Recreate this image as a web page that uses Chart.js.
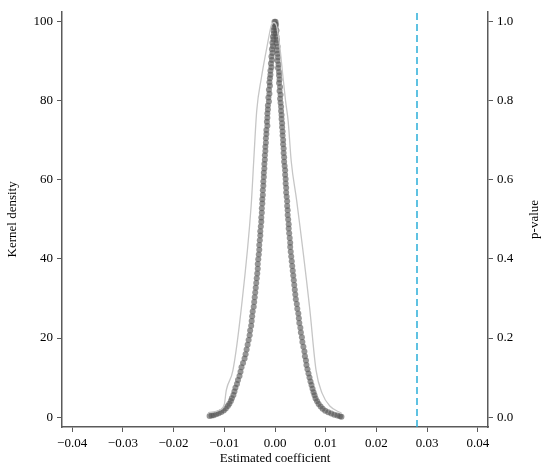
<!DOCTYPE html>
<html>
<head>
<meta charset="utf-8">
<script src="https://cdn.jsdelivr.net/npm/chart.js@4.4.1/dist/chart.umd.min.js"></script>
<style>
  body { margin: 0; background: #fff; }
  canvas { display: block; }
</style>
</head>
<body>
<canvas id="placeboChart" width="550" height="469"></canvas>
<script>
// kernel density of the placebo estimates
var densCoef = [-0.0132, -0.0109, -0.0100, -0.0096, -0.0083, -0.0066, -0.0047, -0.0042, -0.0036, -0.0027, -0.0015, -0.0007, -0.0002,
                0.0003, 0.0009, 0.0016, 0.0021, 0.0026, 0.0032, 0.0043, 0.0068, 0.0081, 0.0093, 0.0108, 0.0131];
var densValue = [1.1, 1.8, 3.2, 6.8, 11.8, 28, 53.5, 64.7, 77.5, 85.7, 94.2, 99.2, 99.8,
                 99, 94.2, 85.7, 79.8, 74.8, 64.7, 54.5, 28, 11.8, 6, 2.8, 1.0];

// p-values, left branch
var leftCoef = [-0.0001, 0.0000, -0.0002, -0.0003, -0.0002, -0.0004, -0.0003, -0.0005, -0.0004, -0.0006,
                -0.0005, -0.0007, -0.0006, -0.0008, -0.0007, -0.0009, -0.0009, -0.0010, -0.0011, -0.0010,
                -0.0012, -0.0011, -0.0013, -0.0012, -0.0014, -0.0014, -0.0015, -0.0015, -0.0016, -0.0015,
                -0.0017, -0.0017, -0.0018, -0.0018, -0.0019, -0.0019, -0.0020, -0.0020, -0.0021, -0.0021,
                -0.0022, -0.0022, -0.0023, -0.0023, -0.0024, -0.0024, -0.0025, -0.0025, -0.0026, -0.0026,
                -0.0027, -0.0027, -0.0028, -0.0029, -0.0029, -0.0030, -0.0031, -0.0031, -0.0032, -0.0033,
                -0.0034, -0.0034, -0.0035, -0.0036, -0.0037, -0.0038, -0.0039, -0.0040, -0.0041, -0.0042,
                -0.0044, -0.0045, -0.0046, -0.0047, -0.0049, -0.0050, -0.0052, -0.0054, -0.0056, -0.0058,
                -0.0060, -0.0063, -0.0066, -0.0068, -0.0070, -0.0073, -0.0075, -0.0078, -0.0080, -0.0082,
                -0.0085, -0.0087, -0.0090, -0.0093, -0.0097, -0.0101, -0.0106, -0.0111, -0.0116, -0.0121,
                -0.0125, -0.0129];
var leftP = [1.000, 0.992, 0.985, 0.978, 0.970, 0.962, 0.955, 0.947, 0.938, 0.930,
             0.921, 0.912, 0.903, 0.894, 0.885, 0.876, 0.866, 0.857, 0.847, 0.838,
             0.828, 0.818, 0.808, 0.798, 0.788, 0.778, 0.768, 0.757, 0.747, 0.737,
             0.726, 0.716, 0.705, 0.694, 0.684, 0.673, 0.662, 0.651, 0.640, 0.629,
             0.618, 0.607, 0.596, 0.585, 0.574, 0.562, 0.551, 0.540, 0.528, 0.517,
             0.505, 0.494, 0.482, 0.470, 0.459, 0.447, 0.435, 0.423, 0.411, 0.399,
             0.387, 0.375, 0.363, 0.351, 0.339, 0.327, 0.315, 0.303, 0.291, 0.279,
             0.267, 0.255, 0.243, 0.231, 0.219, 0.207, 0.195, 0.183, 0.171, 0.159,
             0.148, 0.137, 0.126, 0.115, 0.104, 0.094, 0.084, 0.074, 0.065, 0.056,
             0.048, 0.041, 0.034, 0.028, 0.022, 0.017, 0.013, 0.010, 0.007, 0.005,
             0.004, 0.003];

// p-values, right branch
var rightCoef = [0.0001, 0.0002, 0.0001, 0.0003, 0.0002, 0.0003, 0.0004, 0.0003, 0.0005, 0.0004,
                 0.0005, 0.0006, 0.0005, 0.0007, 0.0006, 0.0008, 0.0008, 0.0009, 0.0008, 0.0010,
                 0.0009, 0.0011, 0.0010, 0.0011, 0.0012, 0.0012, 0.0013, 0.0013, 0.0014, 0.0014,
                 0.0015, 0.0015, 0.0016, 0.0016, 0.0017, 0.0017, 0.0018, 0.0018, 0.0019, 0.0020,
                 0.0020, 0.0021, 0.0021, 0.0022, 0.0022, 0.0023, 0.0024, 0.0024, 0.0025, 0.0025,
                 0.0026, 0.0027, 0.0027, 0.0028, 0.0029, 0.0030, 0.0030, 0.0031, 0.0032, 0.0033,
                 0.0034, 0.0035, 0.0036, 0.0037, 0.0038, 0.0039, 0.0040, 0.0041, 0.0043, 0.0044,
                 0.0046, 0.0047, 0.0048, 0.0050, 0.0051, 0.0053, 0.0054, 0.0056, 0.0058, 0.0059,
                 0.0061, 0.0062, 0.0064, 0.0066, 0.0068, 0.0070, 0.0072, 0.0074, 0.0076, 0.0078,
                 0.0080, 0.0083, 0.0086, 0.0090, 0.0094, 0.0099, 0.0105, 0.0111, 0.0117, 0.0123,
                 0.0128, 0.0131];
var rightP = [1.000, 0.993, 0.986, 0.978, 0.970, 0.962, 0.954, 0.946, 0.937, 0.928,
              0.919, 0.910, 0.901, 0.892, 0.883, 0.873, 0.864, 0.854, 0.845, 0.835,
              0.825, 0.815, 0.805, 0.795, 0.785, 0.774, 0.764, 0.754, 0.743, 0.733,
              0.722, 0.712, 0.701, 0.690, 0.679, 0.668, 0.657, 0.646, 0.635, 0.624,
              0.613, 0.602, 0.591, 0.580, 0.568, 0.557, 0.546, 0.534, 0.523, 0.511,
              0.500, 0.488, 0.477, 0.465, 0.453, 0.441, 0.430, 0.418, 0.406, 0.394,
              0.382, 0.370, 0.358, 0.346, 0.334, 0.322, 0.310, 0.298, 0.286, 0.274,
              0.262, 0.250, 0.238, 0.226, 0.214, 0.202, 0.190, 0.178, 0.166, 0.154,
              0.143, 0.132, 0.121, 0.110, 0.100, 0.090, 0.081, 0.072, 0.063, 0.055,
              0.047, 0.040, 0.033, 0.027, 0.021, 0.016, 0.012, 0.009, 0.006, 0.004,
              0.002, 0.001];

// true estimate
var trueCoef = 0.028;

var xTicks = [-0.04, -0.03, -0.02, -0.01, 0, 0.01, 0.02, 0.03, 0.04];
var densTicks = [0, 20, 40, 60, 80, 100];
var pTicks = [0, 0.2, 0.4, 0.6, 0.8, 1.0];

function pairs(xs, ys) {
    return xs.map(function(x, i) { return {x: x, y: ys[i]}; });
}

var serif = "'Liberation Serif', 'DejaVu Serif', serif";
var axisColor = '#5a5a5a';
var tickFont = {family: serif, size: 13};
var dotColor = 'rgba(85,85,85,0.62)';

// right axis title reads bottom-to-top like the left one
var rightTitle = {
    id: 'rightTitle',
    afterDraw: function(chart) {
        var ctx = chart.ctx;
        var area = chart.chartArea;
        ctx.save();
        ctx.translate(535, (area.top + area.bottom) / 2);
        ctx.rotate(-Math.PI / 2);
        ctx.font = '13px ' + serif;
        ctx.fillStyle = '#000';
        ctx.textAlign = 'center';
        ctx.textBaseline = 'middle';
        ctx.fillText('p-value', 0, 0);
        ctx.restore();
    }
};

var ctx = document.getElementById('placeboChart').getContext('2d');
var chart = new Chart(ctx, {
    type: 'scatter',
    data: {
        datasets: [{
            label: 'Kernel density',
            data: pairs(densCoef, densValue),
            yAxisID: 'y',
            showLine: true,
            borderColor: '#c6c6c6',
            borderWidth: 1.3,
            pointRadius: 0,
            cubicInterpolationMode: 'monotone'
        }, {
            label: 'p-value left',
            data: pairs(leftCoef, leftP),
            yAxisID: 'y2',
            pointBackgroundColor: dotColor,
            pointBorderWidth: 0,
            pointRadius: 3
        }, {
            label: 'p-value right',
            data: pairs(rightCoef, rightP),
            yAxisID: 'y2',
            pointBackgroundColor: dotColor,
            pointBorderWidth: 0,
            pointRadius: 3
        }, {
            label: 'Estimate',
            data: [{x: trueCoef, y: -2.5}, {x: trueCoef, y: 102.5}],
            yAxisID: 'y',
            showLine: true,
            borderColor: '#2aaed8',
            borderWidth: 1.5,
            borderDash: [7, 4],
            pointRadius: 0
        }]
    },
    options: {
        responsive: false,
        animation: false,
        layout: { padding: { top: 10 } },
        plugins: {
            legend: { display: false },
            tooltip: { enabled: false }
        },
        scales: {
            x: {
                type: 'linear',
                min: -0.042,
                max: 0.042,
                afterBuildTicks: function(scale) {
                    scale.ticks = xTicks.map(function(v) { return {value: v}; });
                },
                afterFit: function(scale) { scale.height = 42; },
                grid: { drawOnChartArea: false, tickLength: 5, color: axisColor, lineWidth: 1 },
                border: { color: axisColor, width: 1.5 },
                ticks: {
                    font: tickFont,
                    color: '#000',
                    padding: 4,
                    maxRotation: 0,
                    callback: function(v) { return v.toFixed(2).replace('-', '\u2212'); }
                },
                title: {
                    display: true,
                    text: 'Estimated coefficient',
                    font: {family: serif, size: 13},
                    color: '#000',
                    padding: {top: 0, bottom: 3}
                }
            },
            y: {
                position: 'left',
                min: -2.5,
                max: 102.5,
                afterBuildTicks: function(scale) {
                    scale.ticks = densTicks.map(function(v) { return {value: v}; });
                },
                afterFit: function(scale) { scale.width = 62; },
                grid: { drawOnChartArea: false, tickLength: 5, color: axisColor, lineWidth: 1 },
                border: { color: axisColor, width: 1.5 },
                ticks: { font: tickFont, color: '#000', padding: 4 },
                title: {
                    display: true,
                    text: 'Kernel density',
                    font: {family: serif, size: 13},
                    color: '#000',
                    padding: {top: 5, bottom: 0}
                }
            },
            y2: {
                position: 'right',
                min: -0.025,
                max: 1.025,
                afterBuildTicks: function(scale) {
                    scale.ticks = pTicks.map(function(v) { return {value: v}; });
                },
                afterFit: function(scale) { scale.width = 62; },
                grid: { drawOnChartArea: false, tickLength: 5, color: axisColor, lineWidth: 1 },
                border: { color: axisColor, width: 1.5 },
                ticks: {
                    font: tickFont,
                    color: '#000',
                    padding: 4,
                    callback: function(v) { return v.toFixed(1); }
                }
            }
        }
    },
    plugins: [rightTitle]
});
</script>
</body>
</html>
